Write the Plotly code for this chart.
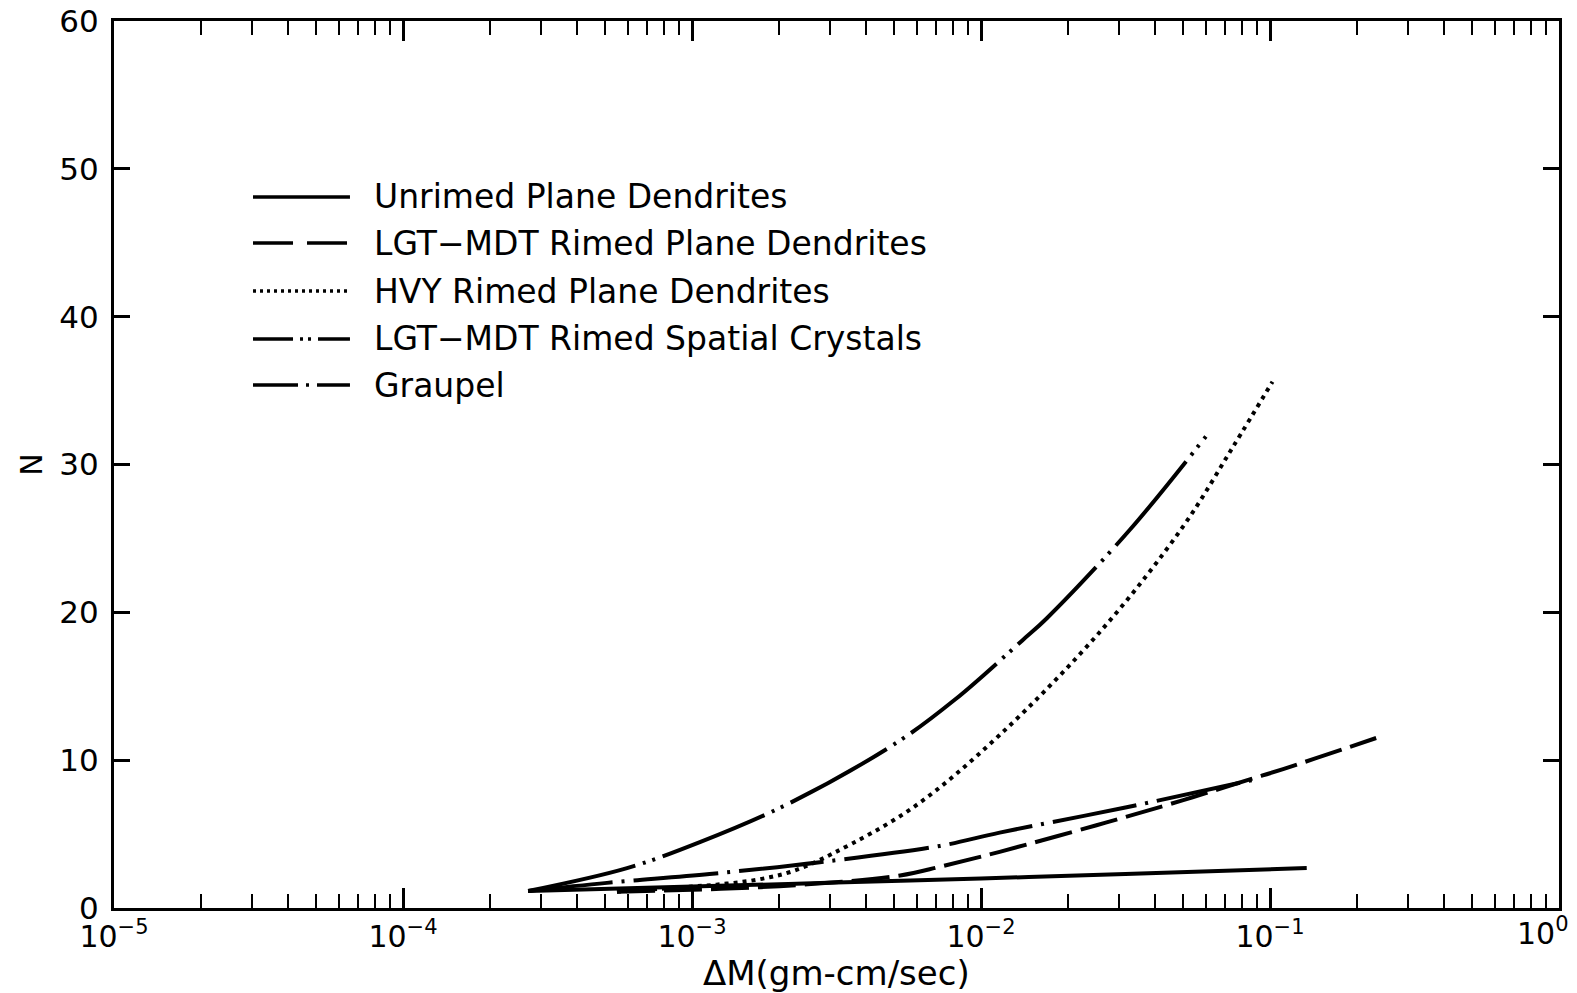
import plotly.graph_objects as go

# x values are delta M (gm-cm/sec), y values are N
unrimed_x = [2.71e-4, 1.0e-3, 3.16e-3, 1.0e-2, 3.16e-2, 0.134]
unrimed_n = [1.15, 1.45, 1.72, 2.0, 2.3, 2.7]

lgt_plane_x = [5.5e-4, 1.26e-3, 2.51e-3, 5.25e-3, 7.24e-3, 1.16e-2, 2.51e-2, 5.01e-2, 8.51e-2, 0.111, 0.189, 0.233]
lgt_plane_n = [1.1, 1.3, 1.6, 2.2, 2.8, 3.8, 5.6, 7.3, 8.7, 9.4, 10.9, 11.5]

hvy_plane_x = [5.5e-4, 1.0e-3, 1.32e-3, 1.72e-3, 2.24e-3, 3.08e-3, 5.82e-3, 1.16e-2, 2.64e-2, 5.0e-2, 7.45e-2, 0.102]
hvy_plane_n = [1.1, 1.45, 1.65, 1.95, 2.5, 3.7, 6.8, 11.7, 18.9, 25.8, 31.2, 35.6]

spatial_x = [2.71e-4, 5.96e-4, 1.07e-3, 2.18e-3, 5.12e-3, 8.13e-3, 1.39e-2, 1.69e-2, 3.28e-2, 6.0e-2]
spatial_n = [1.15, 2.7, 4.47, 7.1, 11.2, 14.1, 18.1, 19.6, 25.6, 31.9]

graupel_x = [2.71e-4, 5.08e-4, 1.15e-3, 2.77e-3, 7.21e-3, 1.16e-2, 3.16e-2, 8.9e-2]
graupel_n = [1.15, 1.7, 2.3, 3.1, 4.2, 5.1, 6.8, 8.7]

names = ["Unrimed Plane Dendrites",
         "LGT\u2212MDT Rimed Plane Dendrites",
         "HVY Rimed Plane Dendrites",
         "LGT\u2212MDT Rimed Spatial Crystals",
         "Graupel"]

x_ticks = [1e-5, 1e-4, 1e-3, 1e-2, 1e-1, 1e0]
x_ticktext = ["10<sup>\u22125</sup>", "10<sup>\u22124</sup>", "10<sup>\u22123</sup>",
              "10<sup>\u22122</sup>", "10<sup>\u22121</sup>", "10<sup>0</sup>"]

series = [(unrimed_x, unrimed_n), (lgt_plane_x, lgt_plane_n), (hvy_plane_x, hvy_plane_n),
          (spatial_x, spatial_n), (graupel_x, graupel_n)]
dashes = ["solid", "38px,9px", "4px,5px", "110px,8px,3px,7px,3px,8px", "85px,9px,3px,9px"]
# shorter patterns for the legend samples
legend_dashes = ["solid", "40px,14px", "3px,4px", "40px,7px,3px,5px,3px,7px", "45px,8px,3px,8px"]

FONT = "DejaVu Sans"

fig = go.Figure()
for (xs, ns), name, dash in zip(series, names, dashes):
    fig.add_trace(go.Scatter(x=xs, y=ns, mode="lines", name=name,
                             line=dict(color="black", width=4, dash=dash, shape="spline", smoothing=1),
                             showlegend=False))

# hand-drawn legend like the original figure
leg_y = [0.8016, 0.7497, 0.6956, 0.6415, 0.5896]
for name, dash, yy in zip(names, legend_dashes, leg_y):
    fig.add_shape(type="line", xref="paper", yref="paper", x0=0.0962, x1=0.1633, y0=yy, y1=yy,
                  line=dict(color="black", width=3.5, dash=dash))
    fig.add_annotation(text=name, xref="paper", yref="paper", x=0.1785, y=yy, xanchor="left",
                       yanchor="middle", showarrow=False, font=dict(size=33, family=FONT, color="black"))

# x axis title as annotation so it sits where the original has it
fig.add_annotation(text="\u0394M(gm-cm/sec)", xref="paper", yref="paper", x=0.5, y=-0.0733,
                   xanchor="center", yanchor="middle", showarrow=False,
                   font=dict(size=34, family=FONT, color="black"))

# last decade label is pulled left so it stays inside the page, like the original
fig.add_annotation(text=x_ticktext[-1], xref="x", yref="paper", x=0, y=0, xanchor="right",
                   yanchor="top", xshift=12, yshift=-2, showarrow=False,
                   font=dict(size=30, family=FONT, color="black"))

fig.update_xaxes(type="log", range=[-5, 0], tickvals=x_ticks[:-1], ticktext=x_ticktext[:-1],
                 ticks="inside", ticklen=20, tickwidth=2.5, tickcolor="black",
                 showline=True, linewidth=3, linecolor="black", mirror="ticks",
                 showgrid=False, zeroline=False, automargin=False, ticklabeloverflow="allow",
                 minor=dict(ticks="inside", ticklen=14, tickwidth=2, tickcolor="black", dtick="D1", showgrid=False),
                 tickfont=dict(size=30, family=FONT, color="black"))
fig.update_yaxes(range=[0, 60], dtick=10, ticks="inside", ticklen=16, tickwidth=2.5, tickcolor="black",
                 showline=True, linewidth=3, linecolor="black", mirror="ticks",
                 showgrid=False, zeroline=False, automargin=False, ticklabelstandoff=6,
                 ticklabeloverflow="allow",
                 tickfont=dict(size=31, family=FONT, color="black"),
                 title=dict(text="N", font=dict(size=30, family=FONT, color="black"), standoff=8))

# the page body adds an 8px offset, so the figure is made 8px smaller and margins shifted
fig.update_layout(width=1569, height=985, plot_bgcolor="white", paper_bgcolor="white",
                  margin=dict(l=106, r=18, t=13, b=85), showlegend=False)

fig.write_html("out.html")
